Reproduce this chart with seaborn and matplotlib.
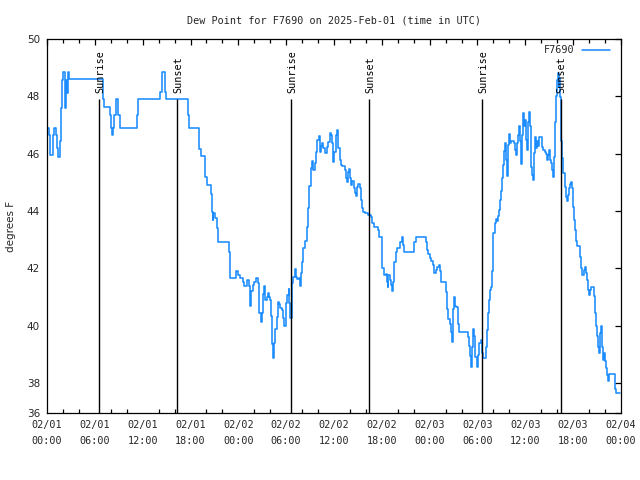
import matplotlib
matplotlib.use("Agg")
import matplotlib.pyplot as plt
import seaborn as sns
import pandas as pd
from matplotlib.ticker import FixedLocator, MultipleLocator

# hours since 2025-02-01 00:00 UTC (value holds until next time)
hours = [0.15, 0.25, 0.35, 0.75, 0.85, 1.15, 1.25, 1.35, 1.65, 1.76, 1.92, 1.98, 2.26, 2.34, 2.47, 2.59,
         2.68, 2.80, 7.07, 7.19, 7.90, 8.05, 8.20, 8.32, 8.45, 8.61, 8.95, 9.16, 11.25, 11.40, 14.22, 14.38,
         14.80, 14.93, 17.73, 17.85,
         19.07, 19.28, 19.82, 20.03, 20.57, 20.66, 20.78, 20.87, 21.07, 21.28, 21.41, 21.49, 22.87, 22.95,
         23.71, 24.00, 24.21, 24.54, 24.71, 25.13, 25.30, 25.46, 25.59, 25.80, 26.01, 26.22, 26.43, 26.55,
         26.64, 26.81, 26.93, 27.05, 27.22, 27.39, 27.55, 27.68, 27.85, 27.97, 28.10, 28.23, 28.31, 28.48,
         28.64, 28.81, 28.98, 29.10, 29.23, 29.44, 29.65, 29.77, 29.98, 30.15, 30.31, 30.40, 30.48, 30.69,
         30.90, 31.07, 31.23, 31.40, 31.57, 31.74, 31.86, 31.99, 32.16, 32.36, 32.57, 32.78, 32.91, 33.08,
         33.24, 33.41, 33.58, 33.75, 33.91, 34.08, 34.25, 34.37, 34.54, 34.67, 34.83,
         35.08, 35.29, 35.46, 35.62, 35.79, 35.92, 36.04, 36.21, 36.38, 36.55, 36.71, 36.88, 37.05, 37.38,
         37.51, 37.67, 37.80, 37.92, 38.01, 38.13, 38.30, 38.51, 38.64, 38.76, 38.93, 39.06, 39.26, 39.39,
         39.56, 39.68, 39.89, 40.23, 40.64, 40.81, 40.98, 41.48, 41.65, 41.98, 42.06, 42.32, 42.48, 42.61,
         42.73, 42.82, 42.98, 43.15, 43.32, 43.45, 43.58, 43.74, 43.91, 44.20, 44.32, 44.49, 44.61, 44.83,
         46.08, 46.25, 47.54, 47.67, 47.84, 48.00, 48.17, 48.46, 48.59, 48.76, 48.97, 49.18, 49.30, 49.43,
         50.05, 50.22, 50.35, 50.51, 50.68, 50.76, 50.89, 51.01, 51.18, 51.35, 51.51, 51.60, 51.72, 52.85,
         52.98,
         53.06, 53.14, 53.27, 53.39, 53.56, 53.69, 53.94, 54.11, 54.23, 54.40, 54.52, 54.61, 54.73, 55.03,
         55.15, 55.28, 55.40, 55.53, 55.65, 55.78, 55.90, 55.99, 56.15, 56.28, 56.41, 56.53, 56.66, 56.82,
         56.99, 57.12, 57.24, 57.37, 57.49, 57.62, 57.74, 57.87, 57.99, 58.12, 58.24, 58.54, 58.66, 58.79,
         58.91, 59.04, 59.16, 59.29, 59.42, 59.54, 59.67, 59.75, 59.88, 60.00, 60.13, 60.25, 60.38, 60.50,
         60.63, 60.75, 60.88, 61.00, 61.13, 61.26, 61.38, 61.51, 61.63, 61.76, 62.09, 62.26, 62.43, 62.59,
         62.72, 62.84, 62.97, 63.10, 63.22, 63.35, 63.47, 63.60, 63.72, 63.85, 63.97, 64.10, 64.18, 64.27,
         64.35, 64.43, 64.52, 64.60, 64.73, 64.98, 65.10, 65.23, 65.35, 65.48, 65.60, 65.73, 65.85, 65.98,
         66.11, 66.23, 66.36, 66.48, 66.82, 66.94, 67.07, 67.32, 67.44, 67.57, 67.69, 67.82, 67.95, 68.07,
         68.20, 68.57, 68.70, 68.82, 68.95, 69.07, 69.20, 69.33, 69.45, 69.58, 69.70, 69.83, 69.95, 70.08,
         70.20, 70.33, 70.55, 71.30, 71.42, 71.85]

dew_f = [46.90, 46.65, 45.95, 46.65, 46.90, 46.65, 46.20, 45.90, 46.45, 47.58, 48.57, 48.86, 47.58, 48.57, 48.10, 48.57,
         48.86, 48.59, 47.90, 47.62, 47.35, 46.88, 46.65, 46.88, 47.35, 47.90, 47.35, 46.88, 47.35, 47.90, 48.16, 48.86,
         48.16, 47.90, 47.35, 46.88,
         46.15, 45.92, 45.18, 44.91, 44.58, 43.98, 43.69, 43.92, 43.74, 43.40, 43.11, 42.91, 42.58, 41.65,
         41.92, 41.77, 41.65, 41.53, 41.38, 41.59, 41.38, 40.69, 41.19, 41.42, 41.53, 41.65, 41.47, 41.13,
         40.45, 40.14, 40.43, 41.10, 41.38, 40.89, 41.00, 41.13, 41.00, 40.90, 40.34, 39.36, 38.86, 39.38,
         39.87, 40.31, 40.83, 40.76, 40.61, 40.55, 40.26, 39.97, 40.78, 41.07, 41.27, 40.78, 40.26, 41.47,
         41.71, 41.96, 41.71, 41.61, 41.65, 41.38, 41.82, 42.23, 42.70, 42.96, 43.45, 44.09, 44.87, 45.49,
         45.76, 45.43, 45.66, 46.07, 46.48, 46.62, 46.07, 46.27, 46.36, 46.19, 46.01,
         46.24, 46.42, 46.71, 46.65, 46.36, 45.72, 46.07, 46.65, 46.83, 46.19, 45.78, 45.60, 45.57, 45.43,
         45.14, 45.02, 45.37, 45.45, 45.14, 44.91, 45.05, 44.79, 44.62, 44.53, 44.85, 44.94, 44.79, 44.39,
         44.09, 43.98, 43.92, 43.86, 43.78, 43.57, 43.43, 43.34, 43.08, 42.70, 42.00, 41.77, 41.80, 41.51,
         41.33, 41.77, 41.59, 41.42, 41.19, 41.53, 42.23, 42.58, 42.70, 42.72, 42.93, 43.10, 42.81, 42.58,
         42.93, 43.10, 42.93, 42.64, 42.49, 42.35, 42.26, 42.12, 41.83, 41.95, 42.06, 42.10, 41.89, 41.51,
         41.16, 40.58, 40.23, 40.06, 39.77, 39.42, 40.58, 40.99, 40.70, 40.64, 40.60, 40.06, 39.77, 39.59,
         39.30,
         38.95, 38.57, 39.27, 39.88, 39.62, 38.92, 38.57, 38.97, 39.38, 39.50, 39.27, 39.04, 38.86, 39.27,
         39.85, 40.43, 40.90, 41.25, 41.36, 41.89, 42.70, 43.23, 43.58, 43.72, 43.64, 43.81, 44.04, 44.39,
         44.68, 45.15, 45.61, 46.08, 46.37, 45.79, 45.21, 46.31, 46.69, 46.37, 46.43, 46.37, 46.13, 45.95,
         46.37, 46.66, 46.95, 46.43, 45.65, 46.66, 47.06, 47.43, 46.95, 47.18, 46.48, 46.13, 47.12, 47.47,
         46.95, 45.55, 45.26, 45.08, 46.01, 46.57, 46.19, 46.43, 46.25, 46.57, 46.24, 46.13, 46.07, 45.98,
         45.79, 45.95, 46.13, 45.79, 45.67, 45.44, 45.18, 45.90, 47.12, 48.02, 48.57, 48.83, 48.34, 48.63,
         47.99, 47.12, 46.43, 45.84, 45.32, 44.85, 44.50, 44.33, 44.56, 44.79, 44.94, 45.02, 44.79, 44.15,
         43.69, 43.34, 42.94, 42.76, 42.41, 42.01, 41.77, 41.95, 42.04, 41.83, 41.60, 41.25, 41.08, 41.25,
         41.36, 41.02, 40.43, 39.97, 39.62, 39.27, 39.04, 39.74, 39.97, 39.27, 38.81, 39.04, 38.75, 38.51,
         38.28, 38.05, 38.30, 37.80, 37.64, 37.64]

event_hours = [6.56, 16.35, 30.65, 40.43, 54.61, 64.48]
event_labels = ["Sunrise", "Sunset", "Sunrise", "Sunset", "Sunrise", "Sunset"]

x_tick_hours = [0, 6, 12, 18, 24, 30, 36, 42, 48, 54, 60, 66, 72]
x_tick_labels = ["02/01\n00:00", "02/01\n06:00", "02/01\n12:00", "02/01\n18:00",
                 "02/02\n00:00", "02/02\n06:00", "02/02\n12:00", "02/02\n18:00",
                 "02/03\n00:00", "02/03\n06:00", "02/03\n12:00", "02/03\n18:00",
                 "02/04\n00:00"]
y_tick_values = [36.95, 38, 40, 42, 44, 46, 48, 50]
y_tick_labels = ["36", "38", "40", "42", "44", "46", "48", "50"]

station = "F7690"
title = "Dew Point for F7690 on 2025-Feb-01 (time in UTC)"

sns.set_style("white")
plt.rcParams["font.family"] = ["DejaVu Sans Mono", "DejaVu Sans"]
mono = "DejaVu Sans Mono"
fs = 7.3

fig = plt.figure(figsize=(6.4, 4.8), dpi=100)
ax = fig.add_axes([47 / 640, 1 - 413 / 480, 574 / 640, 374 / 480])

df = pd.DataFrame({"hour": hours, "dew": dew_f})
sns.lineplot(data=df, x="hour", y="dew", ax=ax, color="#1a8cff", linewidth=1.15,
             drawstyle="steps-post", label=station, sort=False, zorder=2)

ylo, yhi = 36.95, 50
line_top = 47.91
for t, lab in zip(event_hours, event_labels):
    ax.vlines(t, ylo, line_top, color="black", linewidth=1.0, zorder=3)
    ax.text(t + 0.1, 48.12, lab, rotation=90, ha="center", va="bottom",
            fontsize=fs, family=mono, color="black")

ax.set_xlim(0, 72)
ax.set_ylim(ylo, yhi)
ax.xaxis.set_major_locator(FixedLocator(x_tick_hours))
ax.set_xticklabels(x_tick_labels, family=mono, fontsize=fs)
for lbl in ax.get_xticklabels():
    lbl.set_linespacing(1.75)
ax.xaxis.set_minor_locator(MultipleLocator(2))
ax.yaxis.set_major_locator(FixedLocator(y_tick_values))
ax.set_yticklabels(y_tick_labels, family="DejaVu Sans", fontsize=7.5)

ax.tick_params(axis="both", which="major", direction="in", length=4.5, width=0.9,
               top=True, right=True, color="black", pad=5)
ax.tick_params(axis="x", which="minor", direction="in", length=2.8, width=0.9,
               top=True, bottom=True, color="black")
for s in ax.spines.values():
    s.set_color("black")
    s.set_linewidth(0.9)

ax.set_xlabel("")
ax.set_ylabel("degrees F", family="DejaVu Sans", fontsize=7.5)
ax.yaxis.set_label_coords(-0.054, 0.5)
ax.set_title(title, family=mono, fontsize=fs, pad=11)

leg = ax.legend(loc="upper right", bbox_to_anchor=(1 - 5 / 574, 1.0), frameon=False,
                markerfirst=False, handlelength=2.8, handletextpad=0.7, borderaxespad=0.2,
                prop={"family": mono, "size": fs})

fig.savefig("out.png", dpi=100)
